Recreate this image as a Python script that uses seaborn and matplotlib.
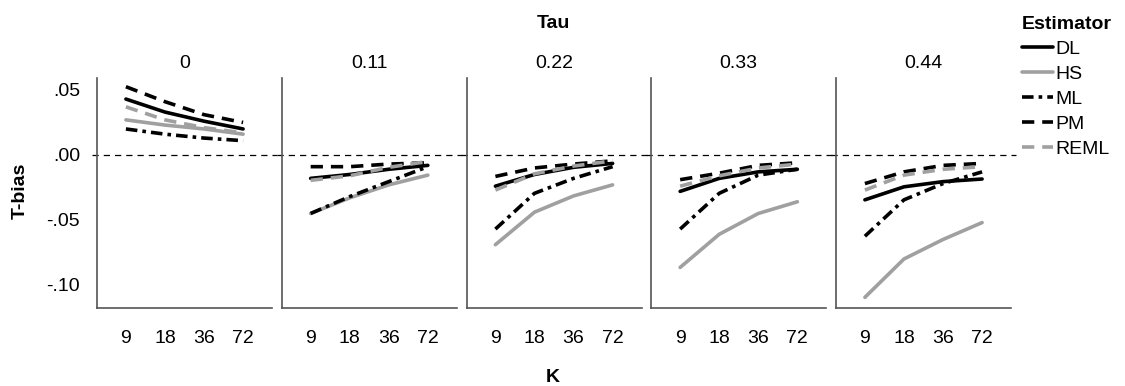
import numpy as np
import pandas as pd
import matplotlib
matplotlib.use("Agg")
import matplotlib.pyplot as plt
import seaborn as sns
from matplotlib.lines import Line2D

sns.set_theme(style="white")
plt.rcParams["font.family"] = ["Liberation Sans", "DejaVu Sans"]
plt.rcParams["text.color"] = "black"
plt.rcParams["xtick.labelcolor"] = "black"
plt.rcParams["ytick.labelcolor"] = "black"
plt.rcParams["axes.titlecolor"] = "black"

# Number of studies (K) and between-study SD (Tau)
k_labels = ["9", "18", "36", "72"]
tau_labels = ["0", "0.11", "0.22", "0.33", "0.44"]
estimators = ["DL", "HS", "ML", "PM", "REML"]

# T-bias per estimator; one row per Tau panel, columns follow k_labels
dl_bias = [
    [0.043, 0.033, 0.026, 0.020],
    [-0.018, -0.015, -0.011, -0.008],
    [-0.024, -0.015, -0.0095, -0.0065],
    [-0.028, -0.018, -0.013, -0.011],
    [-0.0345, -0.0245, -0.0205, -0.0185],
]
hs_bias = [
    [0.027, 0.023, 0.020, 0.016],
    [-0.045, -0.033, -0.023, -0.0155],
    [-0.069, -0.044, -0.0315, -0.023],
    [-0.0865, -0.061, -0.045, -0.036],
    [-0.1095, -0.080, -0.065, -0.052],
]
ml_bias = [
    [0.020, 0.016, 0.013, 0.011],
    [-0.045, -0.032, -0.0205, -0.009],
    [-0.057, -0.0295, -0.018, -0.009],
    [-0.057, -0.0295, -0.0155, -0.011],
    [-0.0625, -0.0345, -0.022, -0.013],
]
pm_bias = [
    [0.0525, 0.041, 0.031, 0.025],
    [-0.009, -0.009, -0.007, -0.006],
    [-0.0165, -0.010, -0.007, -0.0045],
    [-0.019, -0.014, -0.008, -0.006],
    [-0.022, -0.013, -0.008, -0.0065],
]
reml_bias = [
    [0.037, 0.027, 0.021, 0.017],
    [-0.0195, -0.016, -0.0095, -0.005],
    [-0.027, -0.0145, -0.0085, -0.0045],
    [-0.024, -0.016, -0.010, -0.007],
    [-0.027, -0.0155, -0.011, -0.009],
]

series = {"DL": dl_bias, "HS": hs_bias, "ML": ml_bias, "PM": pm_bias, "REML": reml_bias}
rows = []
for est, table in series.items():
    for t, vals in zip(tau_labels, table):
        for pos, (k, v) in enumerate(zip(k_labels, vals)):
            rows.append({"Estimator": est, "Tau": t, "K": k, "pos": pos, "T-bias": v})
df = pd.DataFrame(rows)

palette = {"DL": "#000000", "HS": "#a0a0a0", "ML": "#000000", "PM": "#000000", "REML": "#a0a0a0"}
dashes = {"DL": "", "HS": "", "ML": (3.2, 1.4, 1.0, 1.4), "PM": (3.4, 2.2), "REML": (3.4, 2.2)}
lw = 2.6

W, H = 1125, 386
fig = plt.figure(figsize=(W / 100, H / 100), dpi=100)

panel_w = 175
panel_step = 184.75
x0, y_bot, y_top = 97, 308, 78

spine_col = "#555555"
tick_col = "#b0b0b0"

axes = []
for i, t in enumerate(tau_labels):
    left = (x0 + i * panel_step) / W
    ax = fig.add_axes([left, 1 - y_bot / H, panel_w / W, (y_bot - y_top) / H])
    axes.append(ax)
    sub = df[df["Tau"] == t]
    ax.axhline(0, xmin=-0.03, xmax=1.03, color="black", lw=0.9,
               dashes=(5, 4), clip_on=False, zorder=1)
    sns.lineplot(data=sub, x="pos", y="T-bias", hue="Estimator", style="Estimator",
                 hue_order=estimators, style_order=estimators,
                 palette=palette, dashes=dashes, linewidth=lw,
                 legend=False, ax=ax, zorder=3)
    ax.set_xlim(-0.74, 3.74)
    ax.set_ylim(-0.1177, 0.0592)
    ax.set_xticks(range(len(k_labels)))
    ax.set_xticklabels(k_labels, fontsize=14)
    ax.set_xlabel("")
    ax.set_ylabel("")
    ax.set_title(t, fontsize=14, pad=7)
    for s in ["top", "right"]:
        ax.spines[s].set_visible(False)
    for s in ["left", "bottom"]:
        ax.spines[s].set_color(spine_col)
        ax.spines[s].set_linewidth(1.2)
    ax.tick_params(axis="x", length=8.6, width=1.3, color=tick_col, pad=7)
    if i == 0:
        ax.set_yticks([0.05, 0.0, -0.05, -0.10])
        ax.set_yticklabels([".05", ".00", "-.05", "-.10"], fontsize=14)
        ax.tick_params(axis="y", length=8.6, width=1.3, color=tick_col, pad=3.6)
    else:
        ax.set_yticks([])

# Shared labels
fig.text(553 / W, 1 - 23 / H, "Tau", ha="center", va="center", fontsize=14, fontweight="bold")
fig.text(553 / W, 1 - 377 / H, "K", ha="center", va="center", fontsize=14, fontweight="bold")
fig.text(20 / W, 1 - 191 / H, "T-bias", ha="center", va="center", rotation=90,
         fontsize=14, fontweight="bold")

# Legend
handles = []
for e in estimators:
    h = Line2D([], [], color=palette[e], lw=lw, linestyle="-")
    if dashes[e]:
        h.set_dashes(dashes[e])
    handles.append(h)
leg = fig.legend(handles, estimators, title="Estimator", loc="upper left",
                 bbox_to_anchor=(1014 / W, 1 - 8 / H), frameon=False,
                 fontsize=14, title_fontsize=14, handlelength=1.6,
                 handletextpad=0.15, labelspacing=0.38, borderaxespad=0)
leg.get_title().set_fontweight("bold")
leg._legend_box.align = "left"

fig.savefig("out.png", dpi=100)
